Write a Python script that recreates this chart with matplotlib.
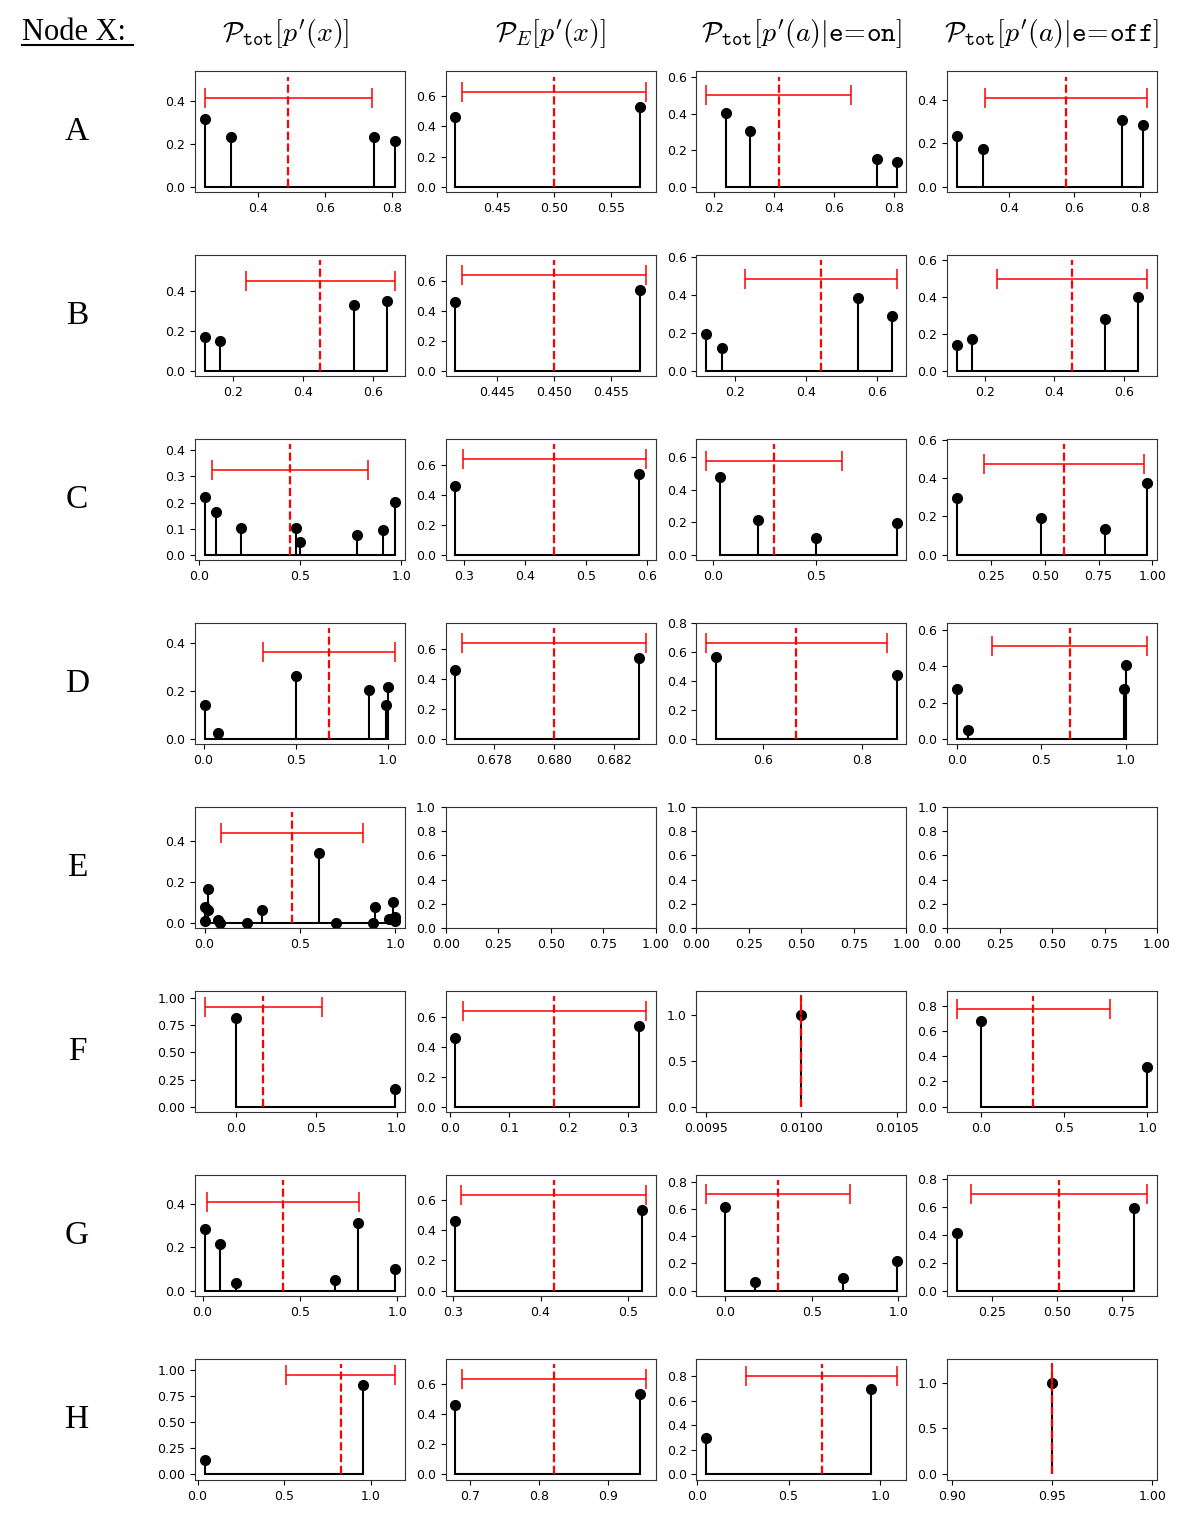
import matplotlib
matplotlib.use("Agg")
import matplotlib.pyplot as plt
from matplotlib.ticker import MaxNLocator
from matplotlib.lines import Line2D

plt.rcParams["mathtext.fontset"] = "cm"
plt.rcParams["xtick.labelsize"] = 9
plt.rcParams["ytick.labelsize"] = 9

rows = ["A", "B", "C", "D", "E", "F", "G", "H"]
headers = [r"$\mathcal{P}_{\mathtt{tot}}[p'(x)]$",
           r"$\mathcal{P}_{E}[p'(x)]$",
           r"$\mathcal{P}_{\mathtt{tot}}[p'(a)|\mathtt{e}\!=\!\mathtt{on}]$",
           r"$\mathcal{P}_{\mathtt{tot}}[p'(a)|\mathtt{e}\!=\!\mathtt{off}]$"]

# column 1: P_tot[p'(x)]
tot_x = [[0.24, 0.32, 0.745, 0.81],
         [0.12, 0.165, 0.545, 0.64],
         [0.028, 0.083, 0.207, 0.48, 0.50, 0.78, 0.91, 0.97],
         [0.005, 0.08, 0.50, 0.90, 0.99, 1.0],
         [0.0, 0.0, 0.02, 0.02, 0.07, 0.08, 0.22, 0.30, 0.60, 0.69, 0.885, 0.895, 0.965, 0.99, 1.0, 1.0],
         [0.0, 0.99],
         [0.01, 0.09, 0.17, 0.68, 0.80, 0.99],
         [0.04, 0.955]]
tot_p = [[0.315, 0.234, 0.234, 0.214],
         [0.169, 0.148, 0.329, 0.350],
         [0.223, 0.162, 0.103, 0.103, 0.049, 0.074, 0.095, 0.203],
         [0.14, 0.025, 0.26, 0.204, 0.14, 0.217],
         [0.074, 0.008, 0.167, 0.06, 0.015, 0.0, 0.0, 0.06, 0.34, 0.0, 0.0, 0.078, 0.018, 0.10, 0.028, 0.008],
         [0.82, 0.16],
         [0.284, 0.214, 0.033, 0.047, 0.31, 0.098],
         [0.14, 0.86]]
tot_mean = [0.49, 0.45, 0.45, 0.68, 0.46, 0.17, 0.414, 0.825]
tot_std = [0.249, 0.213, 0.387, 0.36, 0.373, 0.365, 0.39, 0.315]

# column 2: P_E[p'(x)]
E_x = [[0.413, 0.576],
       [0.4413, 0.4576],
       [0.285, 0.587],
       [0.67669, 0.68283],
       None,
       [0.0085, 0.319],
       [0.303, 0.515],
       [0.678, 0.947]]
E_p = [[0.46, 0.53], [0.46, 0.535], [0.46, 0.535], [0.46, 0.535], None,
       [0.46, 0.535], [0.46, 0.535], [0.46, 0.535]]
E_mean = [0.50, 0.450, 0.448, 0.680, None, 0.176, 0.415, 0.822]
E_std = [0.081, 0.0081, 0.151, 0.00308, None, 0.155, 0.105, 0.134]

# column 3: P_tot[p'(a)|e=on]
on_x = [[0.24, 0.32, 0.745, 0.81],
        [0.12, 0.165, 0.545, 0.64],
        [0.035, 0.218, 0.50, 0.89],
        [0.507, 0.87],
        None,
        [0.01],
        [0.0, 0.17, 0.68, 0.99],
        [0.05, 0.95]]
on_p = [[0.404, 0.304, 0.151, 0.136],
        [0.195, 0.121, 0.384, 0.291],
        [0.48, 0.216, 0.104, 0.196],
        [0.565, 0.445],
        None,
        [1.0],
        [0.61, 0.065, 0.095, 0.22],
        [0.30, 0.70]]
on_mean = [0.416, 0.441, 0.297, 0.668, None, 0.01, 0.305, 0.68]
on_std = [0.242, 0.213, 0.33, 0.182, None, 0.0, 0.417, 0.41]

# column 4: P_tot[p'(a)|e=off]
off_x = [[0.24, 0.32, 0.745, 0.81],
         [0.12, 0.165, 0.545, 0.64],
         [0.092, 0.485, 0.78, 0.977],
         [0.0, 0.065, 0.99, 1.0],
         None,
         [0.004, 1.0],
         [0.113, 0.797],
         [0.95]]
off_p = [[0.233, 0.174, 0.306, 0.282],
         [0.141, 0.171, 0.28, 0.396],
         [0.295, 0.19, 0.134, 0.375],
         [0.272, 0.046, 0.272, 0.41],
         None,
         [0.68, 0.318],
         [0.41, 0.59],
         [1.0]]
off_mean = [0.576, 0.452, 0.59, 0.67, None, 0.316, 0.51, 0.95]
off_std = [0.248, 0.216, 0.37, 0.46, None, 0.46, 0.34, 0.0]

columns = [(tot_x, tot_p, tot_mean, tot_std),
           (E_x, E_p, E_mean, E_std),
           (on_x, on_p, on_mean, on_std),
           (off_x, off_p, off_mean, off_std)]


def stem_panel(ax, xs, ps, mean, std):
    markers, _, _ = ax.stem(xs, ps, linefmt="k-", markerfmt="ko", basefmt="k-")
    markers.set_markersize(7)
    top = max(ps)
    # mean line and +/- std bar
    ax.plot([mean, mean], [0, top + 0.2], color="red", ls="--", lw=1.6)
    ax.errorbar(mean, top + 0.1, xerr=std, color="red", capsize=7,
                elinewidth=1.1, capthick=1.1)


fig, axes = plt.subplots(8, 4, figsize=(11.84, 15.27), dpi=100)
fig.subplots_adjust(left=0.1647, right=0.9772, top=0.9535, bottom=0.0308,
                    wspace=0.195, hspace=0.516)

for i in range(8):
    for j, (cx, cp, cm, cs) in enumerate(columns):
        ax = axes[i, j]
        if cx[i] is not None:
            stem_panel(ax, cx[i], cp[i], cm[i], cs[i])
        ax.xaxis.set_major_locator(MaxNLocator(nbins=4, steps=[1, 2, 2.5, 5, 10]))
        ax.yaxis.set_major_locator(MaxNLocator(nbins=5, steps=[1, 2, 2.5, 5, 10]))
        for sp in ax.spines.values():
            sp.set_edgecolor("#333333")
    pos = axes[i, 0].get_position()
    fig.text(0.065, (pos.y0 + pos.y1) / 2, rows[i], fontsize=24,
             family="Liberation Serif", ha="center", va="center")

for j, h in enumerate(headers):
    pos = axes[0, j].get_position()
    fig.text((pos.x0 + pos.x1) / 2 - (0.012 if j == 0 else 0), 0.978, h,
             fontsize=20, ha="center", va="center")

fig.text(22 / 1184, 0.979, "Node X:", fontsize=22, family="Liberation Serif",
         ha="left", va="center")
fig.add_artist(Line2D([22 / 1184, 133 / 1184], [1 - 45 / 1527] * 2,
                      color="black", lw=1.5, transform=fig.transFigure))

fig.savefig("out.png", dpi=100)
